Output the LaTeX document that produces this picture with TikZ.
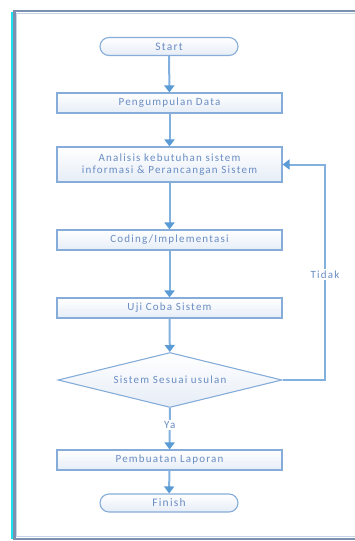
\documentclass[tikz,border=0pt]{standalone}
\usepackage{fontspec}
\setmainfont[LetterSpace=11]{Carlito}
\usetikzlibrary{shapes.geometric,arrows.meta}
\definecolor{flowline}{HTML}{82B1E0}
\definecolor{flowtip}{HTML}{5B9BD5}
\definecolor{boxedge}{HTML}{86ADD9}
\definecolor{boxfill}{HTML}{E6EDF7}
\definecolor{boxtext}{HTML}{6A8DC2}
\definecolor{frameedge}{HTML}{7A90AE}
\definecolor{framelight}{HTML}{C4D3E6}
\definecolor{framecyan}{HTML}{19E3EE}
\tikzset{
  x=1pt, y=1pt,
  procbox/.style={draw=boxedge, line width=1.1pt, top color=white, bottom color=boxfill,
    minimum width=225pt, text=boxtext, font=\fontsize{11}{12.5}\selectfont,
    align=center, inner sep=0pt},
  termbox/.style={draw=boxedge, line width=1.1pt, top color=white, bottom color=boxfill,
    rounded corners=9pt, minimum width=138pt, minimum height=18pt, text=boxtext,
    font=\fontsize{11.5}{12}\selectfont, inner sep=0pt},
  decbox/.style={diamond, draw=boxedge, line width=1.1pt, top color=white, bottom color=boxfill,
    minimum width=224pt, minimum height=55pt, text=boxtext, font=\fontsize{11}{12}\selectfont,
    inner sep=0pt, aspect=4},
  flow/.style={draw=flowline, line width=2pt, -{Triangle[width=10pt,length=7pt,color=flowtip]}},
  flowlabel/.style={fill=white, text=boxtext, font=\fontsize{11}{12}\selectfont, inner sep=1.5pt}
}
\begin{document}
\begin{tikzpicture}
\useasboundingbox (0,0) rectangle (355,-541);
% page frame
\draw[framecyan, line width=2pt] (11.5,-12) -- (11.5,-539);
\draw[frameedge, line width=2.4pt] (355,-11) -- (14.5,-11) -- (14.5,-539) -- (355,-539);
\draw[framelight, line width=1pt] (355,-13.2) -- (16.7,-13.2) -- (16.7,-536.8) -- (355,-536.8);

% steps of the flow
\node[termbox] (start) at (169,-46.5) {Start};
\node[procbox, minimum height=20pt] (collect) at (169.5,-103) {Pengumpulan Data};
\node[procbox, minimum height=35pt] (analysis) at (169.5,-164.5) {Analisis kebutuhan sistem\\informasi \& Perancangan Sistem};
\node[procbox, minimum height=20pt] (coding) at (169.5,-240) {Coding/Implementasi};
\node[procbox, minimum height=20pt] (test) at (169.5,-308) {Uji Coba Sistem};
\node[decbox] (check) at (170,-380) {Sistem Sesuai usulan};
\node[procbox, minimum height=20pt] (report) at (169.5,-460) {Pembuatan Laporan};
\node[termbox] (finish) at (169,-503) {Finish};

% connectors
\draw[flow] (start) -- (collect);
\draw[flow] (collect) -- (analysis);
\draw[flow] (analysis) -- (coding);
\draw[flow] (coding) -- (test);
\draw[flow] (test) -- (check);
\draw[flow] (check) -- node[flowlabel, pos=0.4] (yes) {Ya} (report);
\draw[flow] (report) -- (finish);
\coordinate (loopbot) at (325,-380);
\coordinate (looptop) at (325,-164.5);
\draw[flow] (check.east) -- (loopbot) -- node[flowlabel, pos=0.49] (no) {Tidak} (looptop) -- (analysis.east);
\end{tikzpicture}
\end{document}
